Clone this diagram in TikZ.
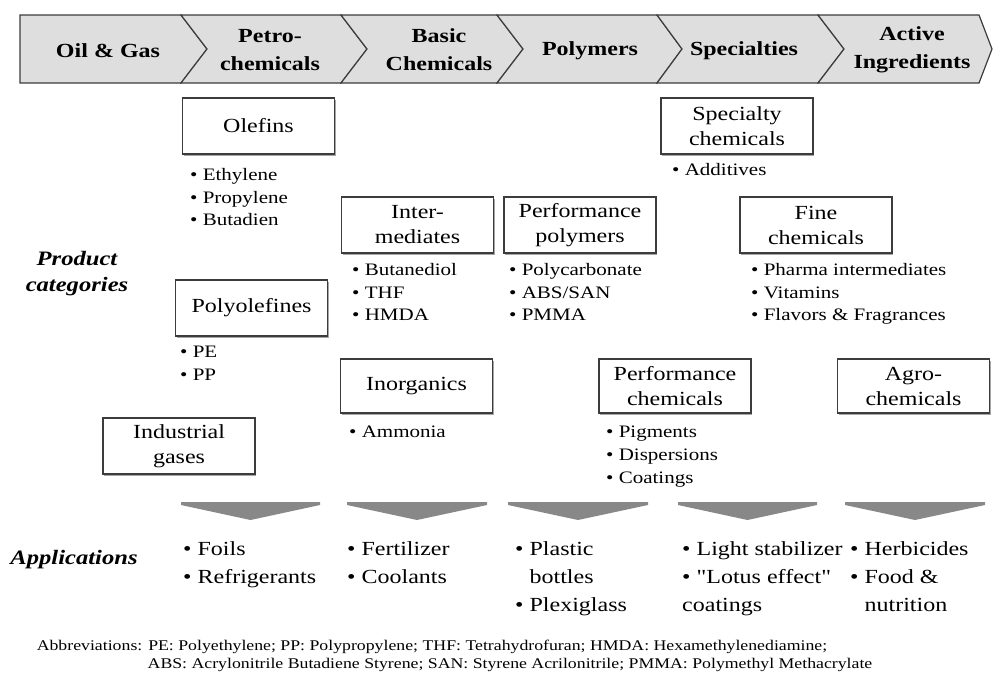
\documentclass[tikz,border=0pt]{standalone}
\usepackage{fontspec}
\setmainfont{Liberation Serif}[FakeStretch=1.2]
\usetikzlibrary{shadows}
\definecolor{bannerfill}{RGB}{222,222,222}
\definecolor{edge}{RGB}{60,60,60}
\definecolor{chevfill}{RGB}{136,136,136}
\newcommand{\sq}{{\addfontfeatures{Ligatures=TeXOff}"}}
\begin{document}
\begin{tikzpicture}[x=1pt,y=-1pt,
  seg/.style={fill=bannerfill, draw=edge, line width=1.2pt, line join=miter},
  bantext/.style={font=\fontsize{20}{28}\selectfont\bfseries, align=center, inner sep=0pt},
  catbox/.style={draw=edge, line width=1.4pt, fill=white, minimum width=152pt, minimum height=56pt,
     inner sep=0pt, align=center, font=\fontsize{20}{25}\selectfont,
     drop shadow={shadow xshift=1pt, shadow yshift=-1.5pt, fill=gray!70, opacity=1}},
  blist/.style={anchor=north west, inner sep=0pt, align=left, font=\fontsize{17.5}{22.8}\selectfont},
  applist/.style={anchor=north west, inner sep=0pt, align=left, font=\fontsize{20}{28}\selectfont},
  sidelabel/.style={font=\fontsize{20.5}{26}\selectfont\bfseries\itshape, align=center, inner sep=0pt},
  chev/.style={fill=chevfill},
  abbr/.style={inner sep=0pt, font=\fontsize{14.8}{18}\selectfont}
]
\useasboundingbox (0,0) rectangle (993,673);

% banner
\path[seg] (20,15) -- (181,15) -- (207,49) -- (181,83) -- (20,83) -- cycle;
\path[seg] (181,15) -- (341,15) -- (367,49) -- (341,83) -- (181,83) -- (207,49) -- cycle;
\path[seg] (341,15) -- (497,15) -- (523,49) -- (497,83) -- (341,83) -- (367,49) -- cycle;
\path[seg] (497,15) -- (657,15) -- (682,49) -- (657,83) -- (497,83) -- (523,49) -- cycle;
\path[seg] (657,15) -- (818,15) -- (844,49) -- (818,83) -- (657,83) -- (682,49) -- cycle;
\path[seg] (818,15) -- (979,15) -- (992,49) -- (979,83) -- (818,83) -- (844,49) -- cycle;

\node[bantext] (b1) at (108,51) {Oil \& Gas};
\node[bantext] (b2) at (270,50) {Petro-\\chemicals};
\node[bantext] (b3) at (439,50) {Basic\\Chemicals};
\node[bantext] (b4) at (590,51) {Polymers};
\node[bantext] (b5) at (744,51) {Specialties};
\node[bantext] (b6) at (912,50) {Active\\Ingredients};

% side labels
\node[sidelabel] (pc) at (77,274) {Product\\categories};
\node[sidelabel] (app) at (74,560) {Applications};

% category boxes
\node[catbox] (olef) at (258.5,126) {Olefins};
\node[catbox] (inter) at (417.5,225) {Inter-\\mediates};
\node[catbox] (polyo) at (251.5,308) {Polyolefines};
\node[catbox] (indg) at (179,446) {Industrial\\gases};
\node[catbox, minimum height=54pt] (inorg) at (416.5,386) {Inorganics};
\node[catbox] (spec) at (737,126) {Specialty\\chemicals};
\node[catbox] (perfp) at (580,225) {Performance\\polymers};
\node[catbox] (fine) at (816,225) {Fine\\chemicals};
\node[catbox, minimum height=54pt] (perfc) at (675,386) {Performance\\chemicals};
\node[catbox, minimum height=54pt] (agro) at (913.5,386) {Agro-\\chemicals};

% bullet lists
\node[blist] (l1) at (190,168) {• Ethylene\\• Propylene\\• Butadien};
\node[blist] (l2) at (180,346) {• PE\\• PP};
\node[blist] (l3) at (352,263) {• Butanediol\\• THF\\• HMDA};
\node[blist] (l4) at (349,426) {• Ammonia};
\node[blist] (l5) at (672,163) {• Additives};
\node[blist] (l6) at (509,263) {• Polycarbonate\\• ABS/SAN\\• PMMA};
\node[blist] (l7) at (751,263) {• Pharma intermediates\\• Vitamins\\• Flavors \& Fragrances};
\node[blist] (l8) at (606,426) {• Pigments\\• Dispersions\\• Coatings};

% chevrons
\foreach \a/\b [count=\i] in {181/320,347/487,508/648,678/817,845/985}{
  \fill[chev] (\a,502) -- (\b,502) -- (\b,505) -- ({(\a+\b)/2},520) -- (\a,505) -- cycle;
}

% applications
\node[applist] (a1) at (183,541) {• Foils\\• Refrigerants};
\node[applist] (a2) at (347,541) {• Fertilizer\\• Coolants};
\node[applist] (a3) at (515,541) {• Plastic\\\hphantom{• }bottles\\• Plexiglass};
\node[applist] (a4) at (682,541) {• Light stabilizer\\• \sq Lotus effect\sq\\coatings};
\node[applist] (a5) at (850,541) {• Herbicides\\• Food \&\\\hphantom{• }nutrition};

% abbreviations
\node[abbr] (ab1) at (432,647) {Abbreviations: PE: Polyethylene; PP: Polypropylene; THF: Tetrahydrofuran; HMDA: Hexamethylenediamine;};
\node[abbr] (ab2) at (510,665) {ABS: Acrylonitrile Butadiene Styrene; SAN: Styrene Acrilonitrile; PMMA: Polymethyl Methacrylate};
\end{tikzpicture}
\end{document}
